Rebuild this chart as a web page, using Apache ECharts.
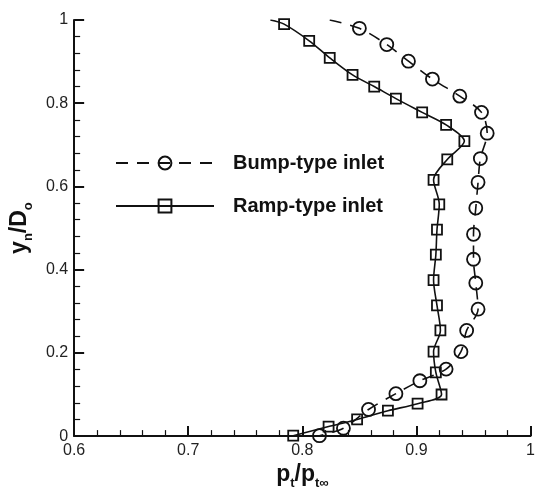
<!DOCTYPE html>
<html>
<head>
<meta charset="utf-8">
<script src="https://cdn.jsdelivr.net/npm/echarts@6/dist/echarts.min.js"></script>
<style>
  html, body { margin: 0; padding: 0; background: #fff; }
  #chart { width: 538px; height: 495px; }
</style>
</head>
<body>
<div id="chart"></div>
<script>
// Total-pressure recovery profiles across the duct exit: [p_t/p_t∞, y_n/D_o]
const seriesNames = ['Bump-type inlet', 'Ramp-type inlet'];

// Leading point (at the upper wall) is part of the curve but carries no marker
const bumpStart = [0.824, 1.0];
const bumpPoints = [
  [0.850, 0.980], [0.874, 0.941], [0.893, 0.901], [0.914, 0.858], [0.938, 0.817],
  [0.957, 0.778], [0.962, 0.728], [0.956, 0.667], [0.954, 0.610], [0.952, 0.548],
  [0.950, 0.485], [0.950, 0.425], [0.952, 0.368], [0.954, 0.305], [0.944, 0.254],
  [0.939, 0.203], [0.926, 0.161], [0.903, 0.133], [0.882, 0.102], [0.858, 0.064],
  [0.836, 0.019], [0.815, 0.001]
];

const rampStart = [0.772, 1.0];
const rampPoints = [
  [0.784, 0.990], [0.806, 0.950], [0.824, 0.909], [0.844, 0.868], [0.863, 0.840],
  [0.882, 0.811], [0.905, 0.778], [0.926, 0.748], [0.942, 0.709], [0.927, 0.665],
  [0.915, 0.616], [0.920, 0.557], [0.918, 0.496], [0.917, 0.436], [0.915, 0.375],
  [0.918, 0.314], [0.921, 0.254], [0.915, 0.203], [0.917, 0.153], [0.922, 0.100],
  [0.901, 0.078], [0.875, 0.061], [0.848, 0.040], [0.823, 0.023], [0.792, 0.001]
];

const xTicks = [0.6, 0.7, 0.8, 0.9, 1];
const yTicks = [0, 0.2, 0.4, 0.6, 0.8, 1];

const FONT = 'Liberation Sans, Arial, Helvetica, sans-serif';
const INK = '#111';

function withLeadIn(start, pts) {
  return [{ value: start, symbol: 'none' }].concat(pts.map(p => ({ value: p })));
}

// rich-text styles for axis titles with subscripts
const titleRich = {
  b: { fontSize: 23, fontWeight: 'bold', fontFamily: FONT, color: INK, lineHeight: 23, verticalAlign: 'top' },
  s: { fontSize: 13, fontWeight: 'bold', fontFamily: FONT, color: INK, lineHeight: 13, verticalAlign: 'top', padding: [14, 0, 0, 0] }
};

const axisCommon = {
  axisLine: { show: true, onZero: false, lineStyle: { color: INK, width: 2 } },
  axisTick: { show: true, inside: true, length: 10, lineStyle: { color: INK, width: 2 } },
  minorTick: { show: true, splitNumber: 5, length: 6, lineStyle: { color: INK, width: 1.2 } },
  splitLine: { show: false },
  minorSplitLine: { show: false },
  axisLabel: { fontSize: 16, fontFamily: FONT, color: '#222', margin: 6 }
};

const chart = echarts.init(document.getElementById('chart'), null, { renderer: 'canvas' });

chart.setOption({
  animation: false,
  backgroundColor: '#fff',
  grid: { left: 74, right: 1, top: 20, bottom: 52, containLabel: false },
  xAxis: Object.assign({}, axisCommon, {
    type: 'value',
    min: xTicks[0], max: xTicks[xTicks.length - 1], interval: 0.1,
    name: '{b|p}{s|t}{b|/p}{s|t∞}',
    nameLocation: 'middle',
    nameGap: 24,
    nameTextStyle: { rich: titleRich }
  }),
  yAxis: Object.assign({}, axisCommon, {
    type: 'value',
    min: yTicks[0], max: yTicks[yTicks.length - 1], interval: 0.2,
    name: '{b|y}{s|n}{b|/D}{s|o}',
    nameLocation: 'middle',
    nameGap: 40,
    nameRotate: 90,
    nameTextStyle: { rich: titleRich }
  }),
  legend: {
    orient: 'vertical',
    left: 110, top: 148,
    itemWidth: 98, itemHeight: 16, itemGap: 23,
    textStyle: { fontSize: 20, fontWeight: 'bold', fontFamily: FONT, color: INK, padding: [0, 0, 0, 14] },
    data: seriesNames
  },
  series: [
    {
      name: seriesNames[0],
      type: 'line',
      smooth: 0.3,
      data: withLeadIn(bumpStart, bumpPoints),
      symbol: 'circle',
      symbolSize: 13,
      lineStyle: { color: INK, width: 1.6, type: [12, 9] },
      itemStyle: { color: 'rgba(0,0,0,0)', borderColor: INK, borderWidth: 1.8 },
      emphasis: { disabled: true }
    },
    {
      name: seriesNames[1],
      type: 'line',
      smooth: 0.3,
      data: withLeadIn(rampStart, rampPoints),
      symbol: 'rect',
      symbolSize: 10,
      lineStyle: { color: INK, width: 1.6, type: 'solid' },
      itemStyle: { color: 'rgba(0,0,0,0)', borderColor: INK, borderWidth: 1.8 },
      emphasis: { disabled: true }
    }
  ]
});
</script>
</body>
</html>
